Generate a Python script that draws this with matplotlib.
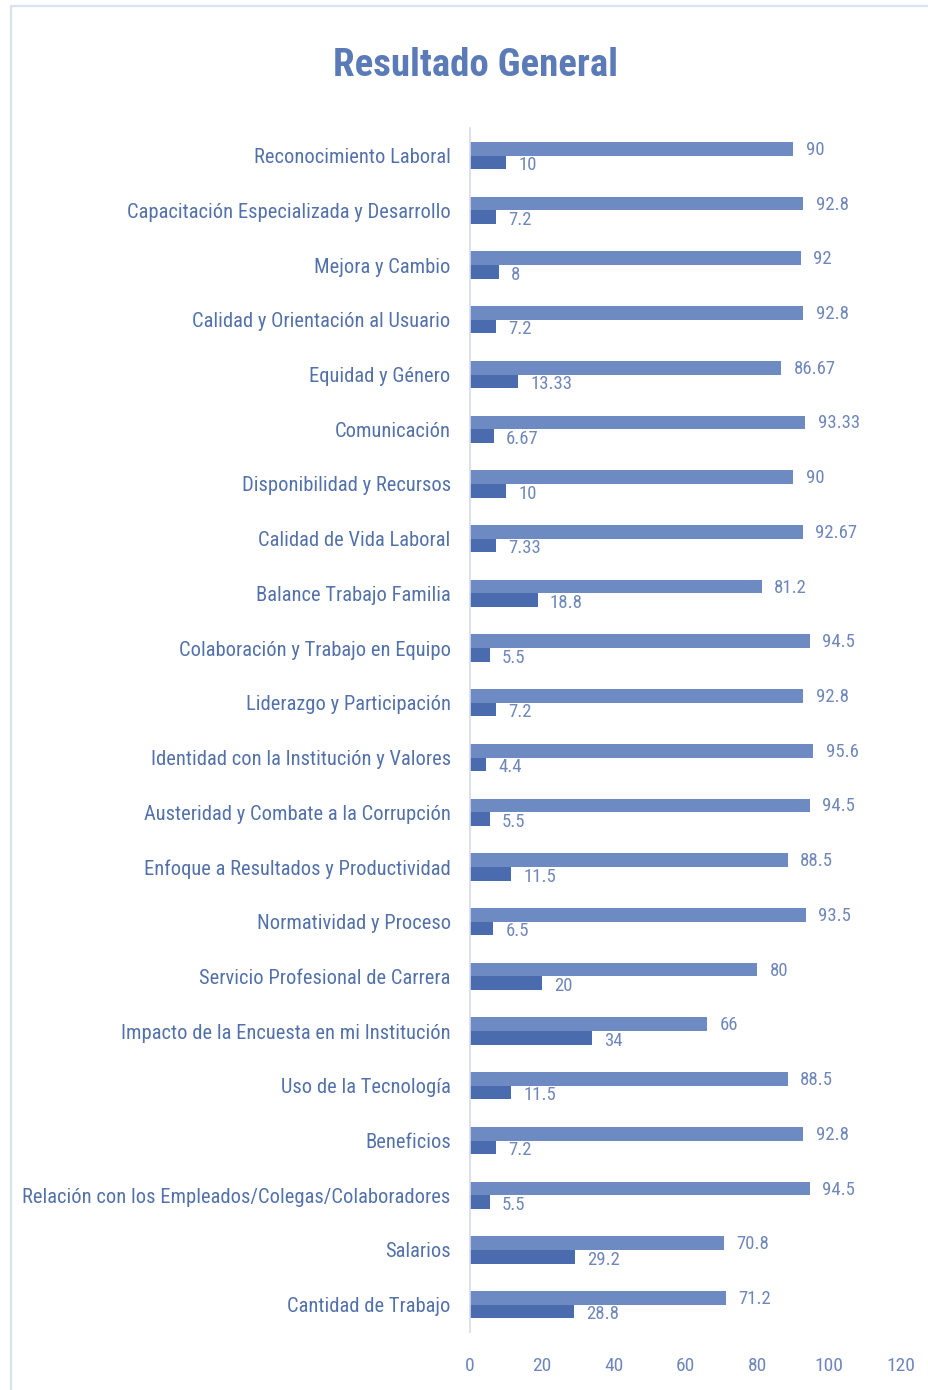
import matplotlib
matplotlib.use("Agg")
import matplotlib.pyplot as plt
from matplotlib import font_manager
from matplotlib.patches import Rectangle
import numpy as np

categories = [
    "Reconocimiento Laboral",
    "Capacitación Especializada y Desarrollo",
    "Mejora y Cambio",
    "Calidad y Orientación al Usuario",
    "Equidad y Género",
    "Comunicación",
    "Disponibilidad y Recursos",
    "Calidad de Vida Laboral",
    "Balance Trabajo Familia",
    "Colaboración y Trabajo en Equipo",
    "Liderazgo y Participación",
    "Identidad con la Institución y Valores",
    "Austeridad y Combate a la Corrupción",
    "Enfoque a Resultados y Productividad",
    "Normatividad y Proceso",
    "Servicio Profesional de Carrera",
    "Impacto de la Encuesta en mi Institución",
    "Uso de la Tecnología",
    "Beneficios",
    "Relación con los Empleados/Colegas/Colaboradores",
    "Salarios",
    "Cantidad de Trabajo",
]
favorable = [90, 92.8, 92, 92.8, 86.67, 93.33, 90, 92.67, 81.2, 94.5, 92.8,
             95.6, 94.5, 88.5, 93.5, 80, 66, 88.5, 92.8, 94.5, 70.8, 71.2]
desfavorable = [10, 7.2, 8, 7.2, 13.33, 6.67, 10, 7.33, 18.8, 5.5, 7.2,
                4.4, 5.5, 11.5, 6.5, 20, 34, 11.5, 7.2, 5.5, 29.2, 28.8]
fav_labels = ["90", "92.8", "92", "92.8", "86.67", "93.33", "90", "92.67", "81.2",
              "94.5", "92.8", "95.6", "94.5", "88.5", "93.5", "80", "66", "88.5",
              "92.8", "94.5", "70.8", "71.2"]
des_labels = ["10", "7.2", "8", "7.2", "13.33", "6.67", "10", "7.33", "18.8",
              "5.5", "7.2", "4.4", "5.5", "11.5", "6.5", "20", "34", "11.5",
              "7.2", "5.5", "29.2", "28.8"]
xticks = [0, 20, 40, 60, 80, 100, 120]

available = {f.name for f in font_manager.fontManager.ttflist}
font = "DejaVu Sans"
for cand in ["Roboto Condensed", "Liberation Sans Narrow", "DejaVu Sans Condensed", "Liberation Sans"]:
    if cand in available:
        font = cand
        break
plt.rcParams['font.family'] = [font, 'DejaVu Sans']

c_light = "#6d8bc2"
c_dark = "#4a6bad"
c_text = "#5371aa"
c_val = "#6f87ba"

fig = plt.figure(figsize=(9.29, 13.9), dpi=100)
fig.patches.append(Rectangle((0.0118, -0.01), 1.1, 0.9957 + 0.01, transform=fig.transFigure,
                             fill=False, edgecolor="#dbe2ef", linewidth=1.6))
ax = fig.add_axes([0.506, 0.0417, 0.464, 0.866])

y = np.arange(len(categories))
h = 0.25
ax.barh(y - h / 2, favorable, height=h, color=c_light)
ax.barh(y + h / 2, desfavorable, height=h, color=c_dark)

for i in range(len(categories)):
    ax.text(favorable[i] + 3.4, y[i] - h / 2 + 0.02, fav_labels[i], va="center", ha="left",
            fontsize=13.5, color=c_val)
    ax.text(desfavorable[i] + 3.4, y[i] + h / 2 + 0.05, des_labels[i], va="center", ha="left",
            fontsize=13.5, color=c_val)

ax.set_ylim(len(categories) - 0.5, -0.5)
ax.set_xlim(0, 120)
ax.set_yticks(y)
ax.set_yticklabels(categories, fontsize=14.8, color=c_text)
ax.set_xticks(xticks)
ax.set_xticklabels([str(t) for t in xticks], fontsize=14, color=c_val)
ax.tick_params(axis="both", length=0)
ax.tick_params(axis="y", pad=14)
ax.tick_params(axis="x", pad=18)
for s in ["top", "right", "bottom"]:
    ax.spines[s].set_visible(False)
ax.spines["left"].set_color("#d5dcea")
ax.spines["left"].set_linewidth(1.2)

fig.text(0.512, 0.953, "Resultado General", ha="center", va="center", fontsize=28,
         fontweight="bold", color="#5b7bb8")

fig.savefig("out.png", dpi=100)
